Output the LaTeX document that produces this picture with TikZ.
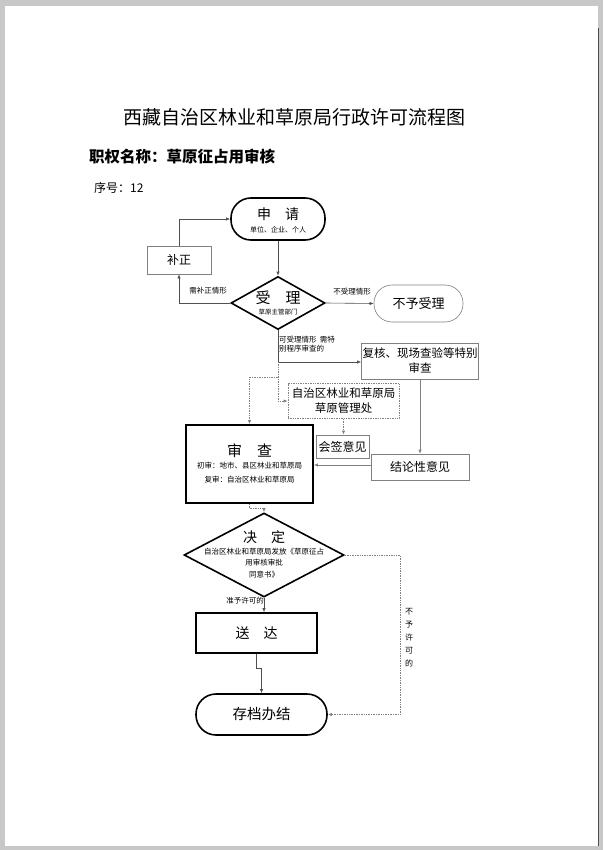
\documentclass[tikz,border=0pt]{standalone}
\usepackage{fontspec}
\setmainfont{Noto Sans CJK SC}
\usetikzlibrary{arrows.meta,shapes.geometric,calc}
\definecolor{pagegray}{HTML}{C8C8C8}
\definecolor{ln}{HTML}{505050}
\definecolor{lnl}{HTML}{808080}
\tikzset{
  tip/.style={-{Latex[length=4pt,width=3.2pt]}},
  thick box/.style={draw=black,line width=1.6pt,rectangle,inner sep=1pt,align=center},
  thin box/.style={draw=lnl,line width=0.6pt,rectangle,inner sep=1pt,align=center},
  dot box/.style={draw=lnl,line width=0.7pt,densely dotted,rectangle,inner sep=1pt,align=center},
  stadium/.style={draw=black,line width=1.6pt,rectangle,rounded corners=20pt,inner sep=1pt,align=center},
  dia/.style={draw=black,line width=1.6pt,diamond,inner sep=0pt},
  conn/.style={draw=ln,line width=0.6pt,tip},
  dconn/.style={draw=lnl,line width=0.7pt,densely dotted,tip},
  lbl/.style={font=\fontsize{7.5}{9}\selectfont,inner sep=0pt,align=center},
}
\begin{document}
\begin{tikzpicture}[x=1pt,y=-1pt]
\useasboundingbox (0,0) rectangle (603,850);
\fill[pagegray] (0,0) rectangle (603,850);
\fill[white] (5,6) rectangle (598,846);
\draw[black!70,line width=0.8pt] (598,28) -- (598,846);

% titles
\node[font=\fontsize{19}{22}\selectfont,inner sep=0pt] (title) at (294,117) {西藏自治区林业和草原局行政许可流程图};
\node[font=\fontsize{15.5}{18}\selectfont\bfseries,anchor=west,inner sep=0pt] (name) at (89,157) {职权名称：草原征占用审核};
\node[font=\fontsize{12}{14}\selectfont,anchor=west,inner sep=0pt] (num) at (94,188) {序号：12};

% nodes
\node[stadium,minimum width=94pt,minimum height=42pt] (shenqing) at (278,219) {};
\node[font=\fontsize{14}{16}\selectfont,inner sep=0pt] (sqt) at (278,214) {申\quad 请};
\node[lbl,font=\fontsize{7}{8}\selectfont] (sqs) at (278,230) {单位、企业、个人};

\node[thin box,minimum width=64pt,minimum height=28pt,font=\fontsize{12}{14}\selectfont] (buzheng) at (179,260) {补正};

\node[dia,minimum width=94pt,minimum height=53pt] (shouli) at (278,303) {};
\node[font=\fontsize{15}{17}\selectfont,inner sep=0pt] (slt) at (278,298) {受\quad 理};
\node[lbl,font=\fontsize{6.5}{8}\selectfont] (sls) at (278,312) {草原主管部门};

\node[thin box,rounded corners=18pt,minimum width=89pt,minimum height=37pt,font=\fontsize{13}{15}\selectfont] (buyu) at (418.5,303.5) {不予受理};

\node[thin box,minimum width=114pt,minimum height=36pt,font=\fontsize{11.5}{15}\selectfont] (fuhe) at (420,361) {复核、现场查验等特别\\审查};

\node[dot box,minimum width=111pt,minimum height=35pt,font=\fontsize{11.5}{15}\selectfont] (zzq) at (343.5,401) {自治区林业和草原局\\草原管理处};

\node[thin box,minimum width=53pt,minimum height=23pt,font=\fontsize{12}{14}\selectfont] (huiqian) at (342.5,446.5) {会签意见};

\node[thin box,minimum width=98pt,minimum height=26pt,font=\fontsize{12}{14}\selectfont] (jielun) at (420,467) {结论性意见};

\node[thick box,minimum width=127pt,minimum height=78pt] (shencha) at (249.5,464) {};
\node[font=\fontsize{15}{17}\selectfont,inner sep=0pt] (sct) at (249.5,451) {审\quad 查};
\node[lbl,font=\fontsize{7.5}{9}\selectfont] (sc1) at (249.5,466) {初审：地市、县区林业和草原局};
\node[lbl,font=\fontsize{7.5}{9}\selectfont] (sc2) at (249.5,480) {复审：自治区林业和草原局};

\node[dia,minimum width=160pt,minimum height=84pt] (jueding) at (264,555) {};
\node[font=\fontsize{14}{16}\selectfont,inner sep=0pt] (jdt) at (264,537) {决\quad 定};
\node[lbl,font=\fontsize{7.5}{11.5}\selectfont] (jds) at (264,563) {自治区林业和草原局发放《草原征占\\用审核审批\\同意书》};

\node[thick box,minimum width=121pt,minimum height=40pt,font=\fontsize{14}{16}\selectfont] (songda) at (256.5,633) {送\quad 达};

\node[stadium,minimum width=131pt,minimum height=41pt,font=\fontsize{14.5}{16}\selectfont] (cundang) at (261.5,714.5) {存档办结};

% connectors
\draw[conn] (buzheng.north) |- (shenqing.west);
\draw[conn] (shenqing.south) -- (shouli.north);
\draw[conn] (shouli.west) -| (buzheng.south);
\node[lbl] (l1) at (208,291) {需补正情形};
\draw[conn] (shouli.east) -- (buyu.west);
\node[lbl] (l2) at (352,292) {不受理情形};

\coordinate (j1) at (278,362);
\coordinate (j2) at (278,377);
\draw[ln,line width=0.6pt] (shouli.south) -- (j1);
\draw[conn] (j1) -- (fuhe.west |- j1);
\node[lbl,align=left] (l3) at (307,344) {可受理情形\ \ 需特\\别程序审查的};
\draw[dconn] (j1) |- (zzq.west);
\draw[dconn] (j2) -| (shencha.north);

\draw[dconn] (zzq.south) -- (zzq.south |- huiqian.north);
\draw[conn,draw=lnl] (fuhe.south) -- (jielun.north);
\draw[conn,draw=lnl] (jielun.west |- 0,465) -- (shencha.east |- 0,465);

\draw[dconn] (shencha.south) -- ($(shencha.south)+(0,5)$) -| (jueding.north);
\draw[conn] (jueding.south) -- (jueding.south |- songda.north);
\node[lbl] (l4) at (245,601) {准予许可的};

\draw[conn] (songda.south) -- ++(0,14) -| (cundang.north);

\coordinate (r) at (400,555);
\draw[dconn] (jueding.east) -- (r) |- (cundang.east);
\node[lbl,font=\fontsize{8}{13}\selectfont] (l5) at (409,638) {不\\予\\许\\可\\的};
\end{tikzpicture}
\end{document}
